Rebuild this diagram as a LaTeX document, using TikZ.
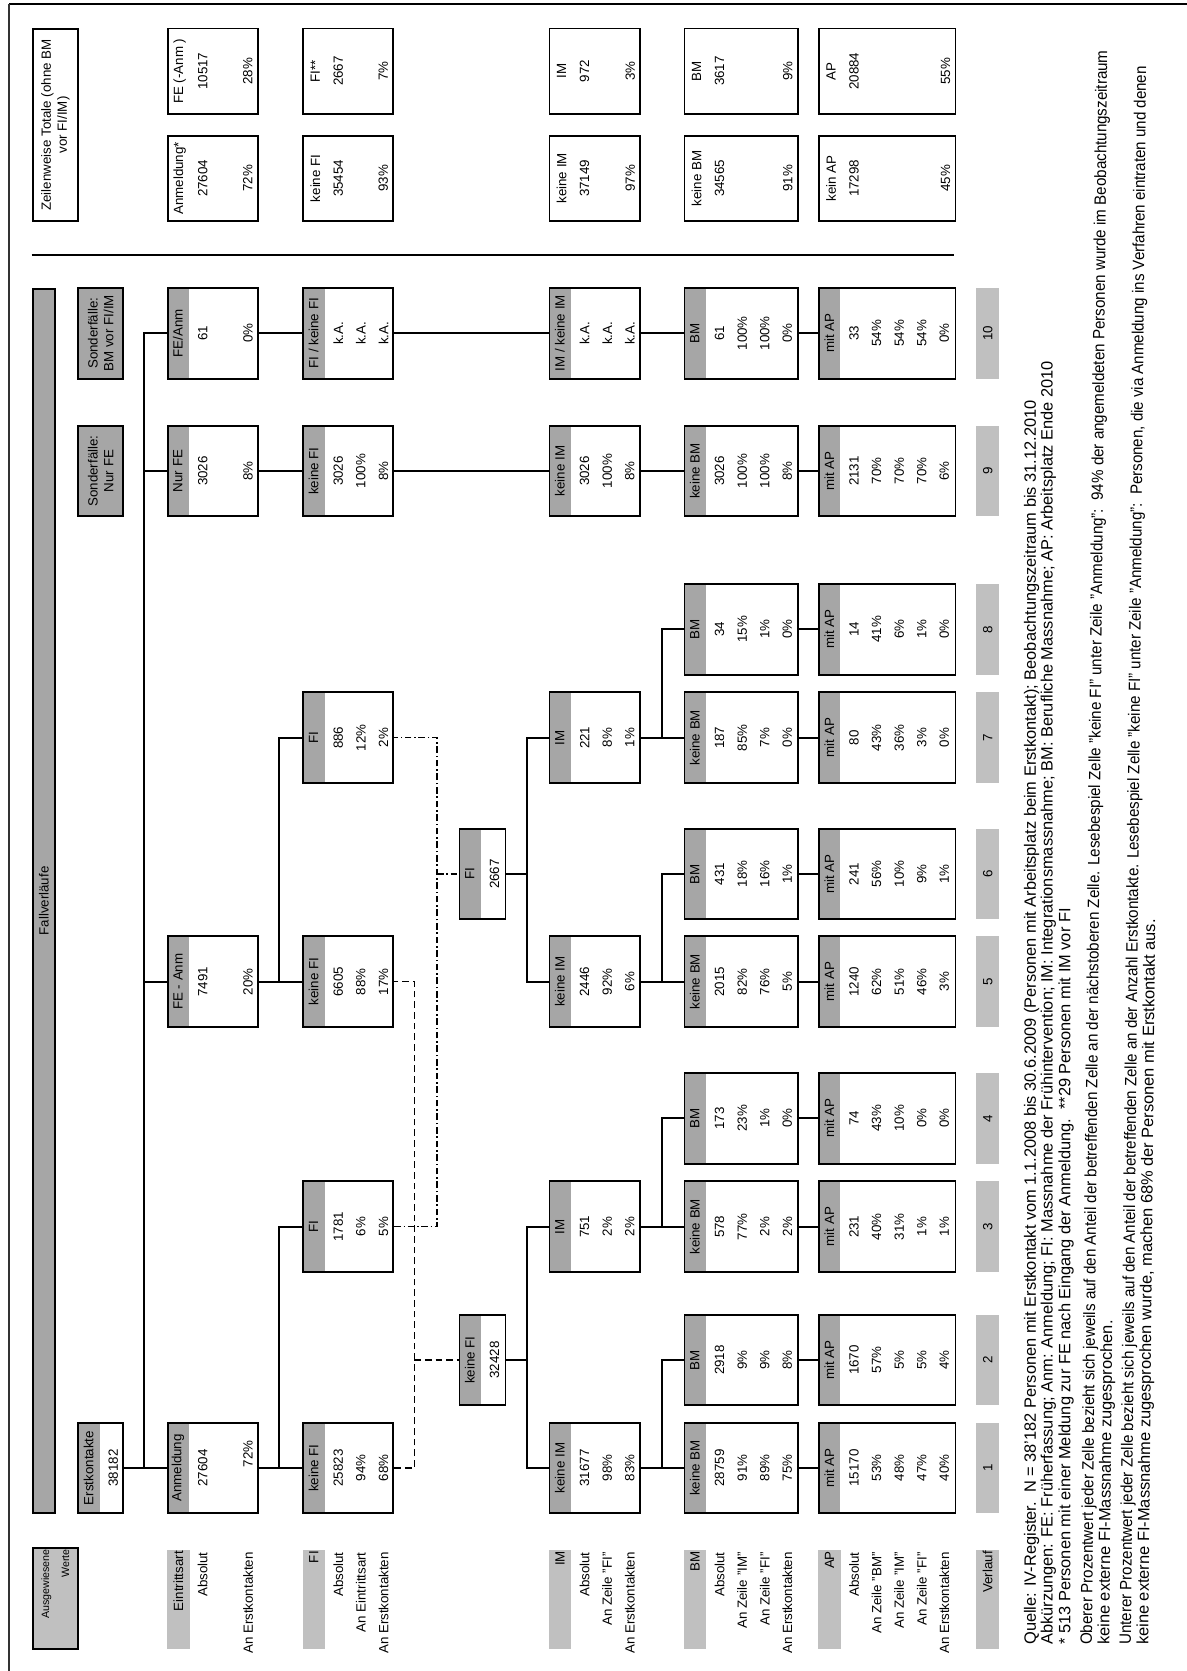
\documentclass[tikz,border=0pt]{standalone}
\usepackage{fontspec}
\usepackage{graphicx}
\setmainfont{Liberation Sans}
\definecolor{hdgray}{RGB}{166,166,166}
\definecolor{labgray}{RGB}{192,192,192}
\newcommand{\kfont}{\fontsize{10}{12}\selectfont}
\newcommand{\sfont}{\fontsize{8}{15}\selectfont}
\newcommand{\nfont}{\fontsize{12.3}{13}\selectfont}
% box of the tree: name, left edge, centre, height, header, values
\newcommand{\kasten}[6]{%
  \node[hdr,anchor=north] (#1-h) at (#2,#3) {#5};
  \node[cell,anchor=north,minimum height=#4*0.75pt] (#1) at (#2,#3) {};
  \foreach \v [count=\i] in {#6}
    \node[val] (#1-\i) at ({#2+36+22.6*(\i-1)},#3) {\v};
}
% box of the row totals
\newcommand{\summe}[7]{%
  \node[cell,anchor=north,minimum width=64pt,minimum height=#4*0.75pt] (#1) at (#2,#3) {};
  \node[val] (#1-a) at ({#2+13},#3) {#5};
  \node[val] (#1-b) at ({#2+36},#3) {#6};
  \node[val] (#1-c) at ({#2+#4-9},#3) {#7};
}
\begin{document}
\begin{tikzpicture}[x=0.75pt,y=0.75pt,yscale=-1,
  cell/.style={draw,line width=1.4pt,rotate=90,inner sep=0pt,minimum width=68pt},
  hdr/.style={fill=hdgray,rotate=90,inner sep=0pt,minimum width=68pt,minimum height=16.5pt,font=\kfont},
  val/.style={rotate=90,inner sep=0pt,font=\kfont},
  sond/.style={draw,fill=hdgray,line width=1.4pt,rotate=90,inner sep=0pt,minimum width=68pt,minimum height=33.75pt,align=center,font=\kfont},
  labbox/.style={fill=labgray,rotate=90,inner sep=0pt,minimum width=74.25pt,minimum height=16.9pt,text width=72.5pt,align=right,font=\kfont},
  lab/.style={rotate=90,inner sep=0pt,anchor=east,font=\kfont},
  verl/.style={fill=labgray,rotate=90,inner sep=0pt,minimum width=68pt,minimum height=17.25pt,font=\kfont},
  conn/.style={line width=1.3pt},
  dsh/.style={line width=1.1pt,dash pattern=on 5pt off 3pt},
  dd/.style={line width=1.1pt,dash pattern=on 5pt off 2pt on 1.2pt off 2pt},
  fn/.style={rotate=90,inner sep=0pt,anchor=west,font=\nfont},
  fnt/.style={rotate=89.45,inner sep=0pt,anchor=west,font=\nfont}]
\useasboundingbox (0,0) rectangle (1187,1671);

%frame
\draw [line width=1.5pt] (9,4) -- (1187,4) ;
\draw [line width=0.8pt,color=black!80] (9,4) -- (9,1671) ;

%bus lines
\coordinate (bA) at (144.3,0);
\coordinate (bB) at (278.7,0);
\coordinate (bD) at (414.3,0);
\coordinate (bE) at (437.1,0);
\coordinate (bM) at (527.3,0);
\coordinate (bC) at (662,0);

%Row totals
\node[cell,anchor=north,minimum width=144pt,minimum height=34.2pt,align=center,font=\kfont] (zt) at (31.7,125) {Zeilenweise Totale (ohne BM\\vor FI/IM)};
\summe{s1a}{166.7}{178.35}{90}{Anmeldung*}{27604}{72\%}
\summe{s1b}{166.7}{71.15}{90}{FE (-Anm )}{10517}{28\%}
\summe{s2a}{302.3}{178.35}{90}{keine FI}{35454}{93\%}
\summe{s2b}{302.3}{71.15}{90}{FI**}{2667}{7\%}
\summe{s3a}{548.6}{178.35}{90.6}{keine IM}{37149}{97\%}
\summe{s3b}{548.6}{71.15}{90.6}{IM}{972}{3\%}
\summe{s4a}{683.6}{178.35}{113.2}{keine BM}{34565}{91\%}
\summe{s4b}{683.6}{71.15}{113.2}{BM}{3617}{9\%}
\summe{s5a}{818}{178.35}{136.6}{kein AP}{17298}{45\%}
\summe{s5b}{818}{71.15}{136.6}{AP}{20884}{55\%}

%Straight Lines: separator
\draw [line width=1.5pt] (31.7,255) -- (954.4,255) ;

%Header bar and special cases
\node[draw,fill=hdgray,line width=1.4pt,rotate=90,anchor=north,inner sep=0pt,minimum width=918pt,minimum height=17pt,font=\kfont] (fv) at (31.7,901) {Fallverläufe};
\node[sond,anchor=north] (sf9) at (77.3,471) {Sonderfälle:\\Nur FE};
\node[sond,anchor=north] (sf10) at (77.3,333.3) {Sonderfälle:\\BM vor FI/IM};
\node[draw,fill=labgray,line width=1.4pt,rotate=90,anchor=north,inner sep=0pt,minimum width=75.75pt,minimum height=34.2pt,text width=73.5pt,align=right,font=\sfont] (aw) at (31.7,1598.5) {Ausgewiesene\\Werte};

%Erstkontakte
\kasten{ek}{77.3}{1468}{45}{Erstkontakte}{38182}

%Eintrittsart
\kasten{anm}{166.7}{1468}{90}{Anmeldung}{27604}
\kasten{fe5}{166.7}{981.7}{90}{FE - Anm}{7491}
\kasten{fe9}{166.7}{471}{90}{Nur FE}{3026}
\kasten{fe10}{166.7}{333.3}{90}{FE/Anm}{61}
\node[val] (anm-3) at (248,1454) {72\%};
\node[val] (fe5-3) at (248,981.7) {20\%};
\node[val] (fe9-3) at (248,471) {8\%};
\node[val] (fe10-3) at (248,333.3) {0\%};

%FI
\kasten{kfi1}{302.3}{1468}{90}{keine FI}{25823,94\%,68\%}
\kasten{fi3}{302.3}{1226.7}{90}{FI}{1781,6\%,5\%}
\kasten{kfi5}{302.3}{981.7}{90}{keine FI}{6605,88\%,17\%}
\kasten{fi7}{302.3}{737.7}{90}{FI}{886,12\%,2\%}
\kasten{kfi9}{302.3}{471}{90}{keine FI}{3026,100\%,8\%}
\kasten{fi10}{302.3}{333.3}{90}{FI / keine FI}{k.A.,k.A.,k.A.}

%FI summary
\kasten{kfim}{458.5}{1360}{46}{keine FI}{32428}
\kasten{fim}{458.5}{874}{46}{FI}{2667}

%IM
\kasten{kim1}{548.6}{1468}{90.6}{keine IM}{31677,98\%,83\%}
\kasten{im3}{548.6}{1226.7}{90.6}{IM}{751,2\%,2\%}
\kasten{kim5}{548.6}{981.7}{90.6}{keine IM}{2446,92\%,6\%}
\kasten{im7}{548.6}{737.7}{90.6}{IM}{221,8\%,1\%}
\kasten{kim9}{548.6}{471}{90.6}{keine IM}{3026,100\%,8\%}
\kasten{im10}{548.6}{333.3}{90.6}{IM / keine IM}{k.A.,k.A.,k.A.}

%BM
\kasten{kbm1}{683.6}{1468}{113.2}{keine BM}{28759,91\%,89\%,75\%}
\kasten{bm2}{683.6}{1360}{113.2}{BM}{2918,9\%,9\%,8\%}
\kasten{kbm3}{683.6}{1226.7}{113.2}{keine BM}{578,77\%,2\%,2\%}
\kasten{bm4}{683.6}{1118.3}{113.2}{BM}{173,23\%,1\%,0\%}
\kasten{kbm5}{683.6}{981.7}{113.2}{keine BM}{2015,82\%,76\%,5\%}
\kasten{bm6}{683.6}{874}{113.2}{BM}{431,18\%,16\%,1\%}
\kasten{kbm7}{683.6}{737.7}{113.2}{keine BM}{187,85\%,7\%,0\%}
\kasten{bm8}{683.6}{629.3}{113.2}{BM}{34,15\%,1\%,0\%}
\kasten{kbm9}{683.6}{471}{113.2}{keine BM}{3026,100\%,100\%,8\%}
\kasten{bm10}{683.6}{333.3}{113.2}{BM}{61,100\%,100\%,0\%}

%AP
\kasten{ap1}{818}{1468}{136.6}{mit AP}{15170,53\%,48\%,47\%,40\%}
\kasten{ap2}{818}{1360}{136.6}{mit AP}{1670,57\%,5\%,5\%,4\%}
\kasten{ap3}{818}{1226.7}{136.6}{mit AP}{231,40\%,31\%,1\%,1\%}
\kasten{ap4}{818}{1118.3}{136.6}{mit AP}{74,43\%,10\%,0\%,0\%}
\kasten{ap5}{818}{981.7}{136.6}{mit AP}{1240,62\%,51\%,46\%,3\%}
\kasten{ap6}{818}{874}{136.6}{mit AP}{241,56\%,10\%,9\%,1\%}
\kasten{ap7}{818}{737.7}{136.6}{mit AP}{80,43\%,36\%,3\%,0\%}
\kasten{ap8}{818}{629.3}{136.6}{mit AP}{14,41\%,6\%,1\%,0\%}
\kasten{ap9}{818}{471}{136.6}{mit AP}{2131,70\%,70\%,70\%,6\%}
\kasten{ap10}{818}{333.3}{136.6}{mit AP}{33,54\%,54\%,54\%,0\%}

%Row labels
\node[labbox,anchor=north] (lb1) at (166.7,1599.5) {Eintrittsart};
\node[lab] (l1-1) at (202.7,1552) {Absolut};
\node[lab] (l1-3) at (248,1552) {An Erstkontakten};
\node[labbox,anchor=north] (lb2) at (302.3,1599.5) {FI};
\foreach \t [count=\i] in {Absolut,An Eintrittsart,An Erstkontakten}
  \node[lab] (l2-\i) at ({302.3+36+22.6*(\i-1)},1552) {\t};
\node[labbox,anchor=north] (lb3) at (548.6,1599.5) {IM};
\foreach \t [count=\i] in {Absolut,An Zeile "FI",An Erstkontakten}
  \node[lab] (l3-\i) at ({548.6+36+22.6*(\i-1)},1552) {\t};
\node[labbox,anchor=north] (lb4) at (683.6,1599.5) {BM};
\foreach \t [count=\i] in {Absolut,An Zeile "IM",An Zeile "FI",An Erstkontakten}
  \node[lab] (l4-\i) at ({683.6+36+22.6*(\i-1)},1552) {\t};
\node[labbox,anchor=north] (lb5) at (818,1599.5) {AP};
\foreach \t [count=\i] in {Absolut,An Zeile "BM",An Zeile "IM",An Zeile "FI",An Erstkontakten}
  \node[lab] (l5-\i) at ({818+36+22.6*(\i-1)},1552) {\t};

%Verlauf
\node[labbox,anchor=north] (vl) at (976,1599.5) {Verlauf};
\foreach \c [count=\i] in {1468,1360,1226.7,1118.3,981.7,874,737.7,629.3,471,333.3}
  \node[verl,anchor=north] (v\i) at (976,\c) {\i};

%Footnotes
\node[fn] (fn1) at (1031.7,1645) {Quelle: IV-Register.\ \ N = 38'182 Personen mit Erstkontakt vom 1.1.2008 bis 30.6.2009 (Personen mit Arbeitsplatz beim Erstkontakt); Beobachtungszeitraum bis 31.12.2010};
\node[fn] (fn2) at (1048.3,1645) {Abkürzungen: FE: Früherfassung; Anm: Anmeldung; FI: Massnahme der Frühintervention; IM: Integrationsmassnahme; BM: Berufliche Massnahme; AP: Arbeitsplatz Ende 2010};
\node[fn] (fn3) at (1066,1645) {* 513 Personen mit einer Meldung zur FE nach Eingang der Anmeldung.\ \ **29 Personen mit IM vor FI};
\node[fnt] (fn4) at (1087.7,1645) {\resizebox{1196pt}{\height}{Oberer Prozentwert jeder Zelle bezieht sich jeweils auf den Anteil der betreffenden Zelle an der nächstoberen Zelle. Lesebespiel Zelle "keine FI" unter Zeile "Anmeldung":\ \ 94\% der angemeldeten Personen wurde im Beobachtungszeitraum}};
\node[fnt] (fn5) at (1105,1645) {keine externe FI-Massnahme zugesprochen.};
\node[fnt] (fn6) at (1126.7,1645) {\resizebox{1184pt}{\height}{Unterer Prozentwert jeder Zelle bezieht sich jeweils auf den Anteil der betreffenden Zelle an der Anzahl Erstkontakte. Lesebespiel Zelle "keine FI" unter Zeile "Anmeldung":\ \ Personen, die via Anmeldung ins Verfahren eintraten und denen}};
\node[fnt] (fn7) at (1144,1645) {keine externe FI-Massnahme zugesprochen wurde, machen 68\% der Personen mit Erstkontakt aus.};

%Connectors: Eintrittsart
\draw[conn] (ek.south) -- (anm.north);
\draw[conn] (fe10.north) -| (anm.north -| bA);
\draw[conn] (fe5.north -| bA) -- (fe5.north);
\draw[conn] (fe9.north -| bA) -- (fe9.north);
%Connectors: FI
\draw[conn] (anm.south) -- (kfi1.north);
\draw[conn] (fi3.north) -| (kfi1.north -| bB);
\draw[conn] (fe5.south) -- (kfi5.north);
\draw[conn] (fi7.north) -| (kfi5.north -| bB);
\draw[conn] (fe9.south) -- (kfi9.north);
\draw[conn] (fe10.south) -- (fi10.north);
%Connectors: dashed to summary
\draw[dsh] (kfi1.south) -| (kfi5.south -| bD) -- (kfi5.south);
\draw[dsh] (kfim.north -| bD) -- (kfim.north);
\draw[dd] (fi3.south) -| (fi7.south -| bE) -- (fi7.south);
\draw[dd] (fim.north -| bE) -- (fim.north);
%Connectors: IM
\draw[conn] (kfim.south) -- (kfim.south -| bM);
\draw[conn] (im3.north) -| (kim1.north -| bM) -- (kim1.north);
\draw[conn] (fim.south) -- (fim.south -| bM);
\draw[conn] (im7.north) -| (kim5.north -| bM) -- (kim5.north);
\draw[conn] (kfi9.south) -- (kim9.north);
\draw[conn] (fi10.south) -- (im10.north);
%Connectors: BM
\draw[conn] (kim1.south) -- (kbm1.north);
\draw[conn] (bm2.north) -| (kbm1.north -| bC);
\draw[conn] (im3.south) -- (kbm3.north);
\draw[conn] (bm4.north) -| (kbm3.north -| bC);
\draw[conn] (kim5.south) -- (kbm5.north);
\draw[conn] (bm6.north) -| (kbm5.north -| bC);
\draw[conn] (im7.south) -- (kbm7.north);
\draw[conn] (bm8.north) -| (kbm7.north -| bC);
\draw[conn] (kim9.south) -- (kbm9.north);
\draw[conn] (im10.south) -- (bm10.north);
%Connectors: AP
\foreach \a/\b in {kbm1/ap1,bm2/ap2,kbm3/ap3,bm4/ap4,kbm5/ap5,bm6/ap6,kbm7/ap7,bm8/ap8,kbm9/ap9,bm10/ap10}
  \draw[conn] (\a.south) -- (\b.north);

\end{tikzpicture}
\end{document}
